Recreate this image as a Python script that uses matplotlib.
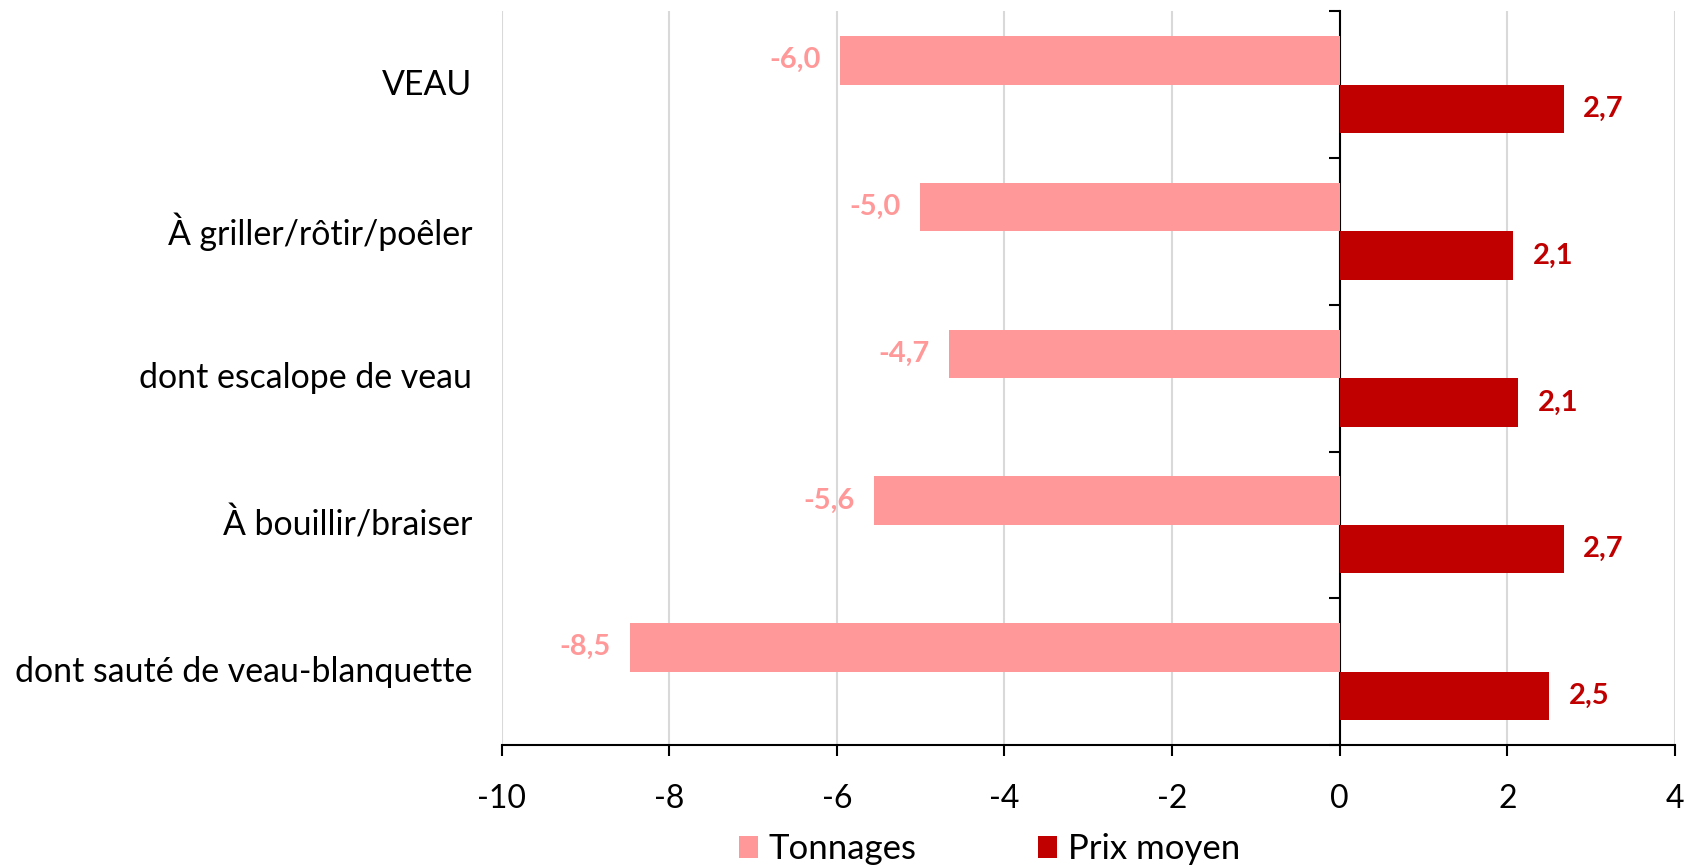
import matplotlib.pyplot as plt
import numpy as np

# Data
categories = ["VEAU", "À griller/rôtir/poêler", "dont escalope de veau",
              "À bouillir/braiser", "dont sauté de veau-blanquette"]
tonnages = [-5.96, -5.01, -4.66, -5.56, -8.47]
prix_moyen = [2.67, 2.07, 2.13, 2.67, 2.50]

col_ton = "#FF9999"
col_prix = "#C00000"

plt.rcParams['font.family'] = ['Lato', 'DejaVu Sans']
plt.rcParams['axes.unicode_minus'] = False

fig = plt.figure(figsize=(16.89, 8.67), dpi=100)
ax = fig.add_axes([0.297, 0.1407, 0.6947, 0.8463])

y = np.arange(len(categories))
h = 0.331
b1 = ax.barh(y - h / 2, tonnages, height=h, color=col_ton, label="Tonnages", zorder=3)
b2 = ax.barh(y + h / 2, prix_moyen, height=h, color=col_prix, label="Prix moyen", zorder=3)

fmt = lambda v: f"{v:.1f}".replace(".", ",")
ax.bar_label(b1, labels=[fmt(v) for v in tonnages], padding=14,
             color=col_ton, fontsize=21, fontweight="bold")
ax.bar_label(b2, labels=[fmt(v) for v in prix_moyen], padding=14,
             color=col_prix, fontsize=21, fontweight="bold")

ax.set_xlim(-10, 4)
ax.set_ylim(len(categories) - 0.5, -0.5)
ax.set_xticks(np.arange(-10, 5, 2))
ax.tick_params(axis="x", labelsize=23, length=8, width=1.5, direction="out", pad=20)
ax.grid(axis="x", color="#D9D9D9", linewidth=1.5, zorder=0)

# y axis at zero with ticks at category boundaries
ax.spines["left"].set_position(("data", 0))
ax.spines["left"].set_linewidth(1.5)
ax.spines["bottom"].set_linewidth(1.5)
ax.spines["top"].set_visible(False)
ax.spines["right"].set_visible(False)
ax.set_yticks(np.arange(-0.5, len(categories), 1.0))
ax.set_yticklabels([])
ax.tick_params(axis="y", length=8, width=1.5, direction="out")

# category labels on the left of the plot area
for i, c in enumerate(categories):
    ax.text(-0.025, i, c, transform=ax.get_yaxis_transform(), ha="right",
            va="center", fontsize=24.4)

fig.legend(loc="center", bbox_to_anchor=(0.586, 0.021), ncol=2, frameon=False,
           fontsize=25, handlelength=0.55, handleheight=0.6, handletextpad=0.3,
           columnspacing=3.5)

plt.savefig("out.png", dpi=100)
